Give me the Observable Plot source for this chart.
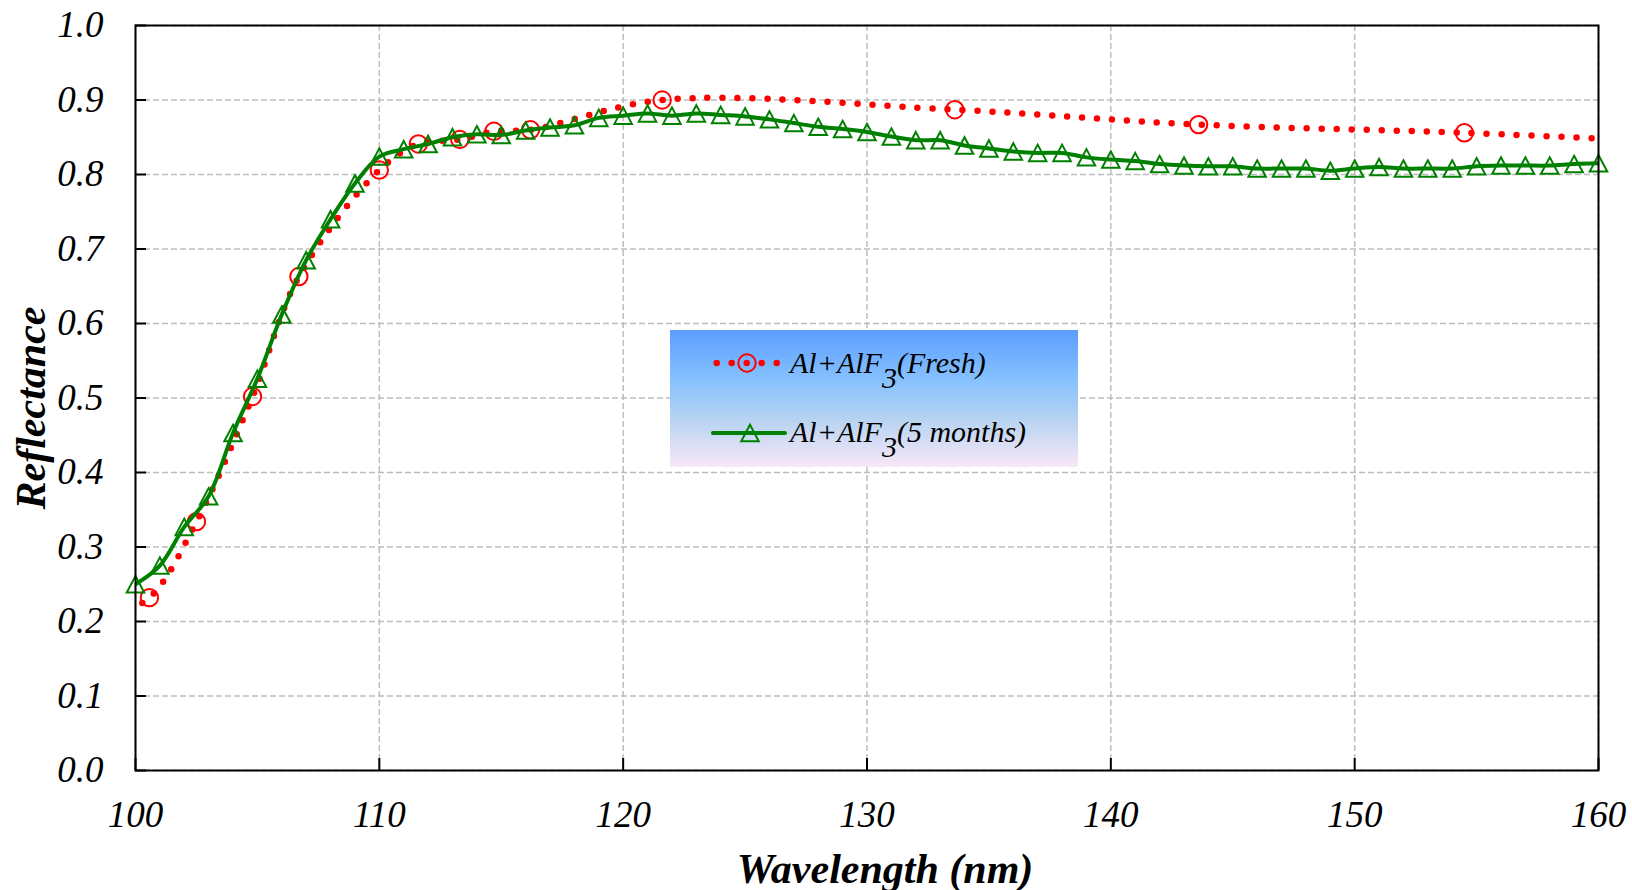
<!DOCTYPE html>
<html>
<head>
<meta charset="utf-8">
<script src="https://cdn.jsdelivr.net/npm/d3@7"></script>
<script src="https://cdn.jsdelivr.net/npm/@observablehq/plot@0.6"></script>
<style>
  html, body { margin: 0; padding: 0; background: #fff; }
  #chart { width: 1632px; height: 890px; }
</style>
</head>
<body>
<div id="chart"></div>
<script>
// ---- data ----
const xTicks = [100, 110, 120, 130, 140, 150, 160];
const yTicks = [0, 0.1, 0.2, 0.3, 0.4, 0.5, 0.6, 0.7, 0.8, 0.9, 1.0];

const seriesNames = ["Al+AlF3(Fresh)", "Al+AlF3(5 months)"];

// Fresh sample (measured points; series continues past the axis range and is clipped)
const freshWavelength = [98.6, 100.57, 102.5, 104.8, 106.7, 110.0, 111.6, 113.3, 114.7, 116.2, 121.6, 133.6, 143.6, 154.5, 165.5];
const freshReflectance = [0.200, 0.232, 0.334, 0.502, 0.663, 0.806, 0.841, 0.847, 0.858, 0.860, 0.900, 0.887, 0.867, 0.856, 0.840];

// After 5 months (1 nm steps)
const agedWavelength = [100,101,102,103,104,105,106,107,108,109,110,111,112,113,114,115,116,117,118,119,120,
  121,122,123,124,125,126,127,128,129,130,131,132,133,134,135,136,137,138,139,140,
  141,142,143,144,145,146,147,148,149,150,151,152,153,154,155,156,157,158,159,160];
const agedReflectance = [0.250,0.275,0.327,0.368,0.453,0.526,0.612,0.685,0.740,0.788,0.824,
  0.834,0.841,0.850,0.854,0.853,0.859,0.863,0.866,0.876,0.879,
  0.882,0.879,0.882,0.880,0.878,0.874,0.869,0.864,0.861,0.857,
  0.851,0.846,0.846,0.839,0.835,0.831,0.829,0.829,0.823,0.820,
  0.818,0.814,0.812,0.811,0.811,0.808,0.808,0.808,0.805,0.808,
  0.810,0.808,0.808,0.808,0.811,0.812,0.812,0.812,0.814,0.815];

const fresh = freshWavelength.map((x, i) => ({x, y: freshReflectance[i]}));
const aged = agedWavelength.map((x, i) => ({x, y: agedReflectance[i]}));

const RED = "#ff0000";
const GREEN = "#008000";
const FONT = "'Liberation Serif', 'Times New Roman', Times, serif";

// open isosceles triangle centred on its bounding box
const triangleSymbol = {
  draw(context, size) {
    const r = Math.sqrt(size / Math.PI);
    const w = 1.03 * r, h = 0.97 * r;
    context.moveTo(0, -h);
    context.lineTo(w, h);
    context.lineTo(-w, h);
    context.closePath();
  }
};

const gridStyle = {stroke: "#bdbdbd", strokeOpacity: 1, strokeWidth: 1.5, strokeDasharray: "6,3"};

const chart = Plot.plot({
  width: 1632,
  height: 890,
  marginLeft: 135,
  marginRight: 34,
  marginTop: 25,
  marginBottom: 120,
  x: {domain: [100, 160]},
  y: {domain: [0, 1]},
  style: {fontFamily: FONT, fontStyle: "italic", fontSize: "36px", color: "black", background: "white", overflow: "visible"},
  marks: [
    Plot.gridX(xTicks, gridStyle),
    Plot.gridY(yTicks, gridStyle),
    Plot.line(fresh, {x: "x", y: "y", stroke: RED, strokeWidth: 6.5, strokeDasharray: "0,15",
      strokeLinecap: "round", curve: "catmull-rom", clip: true}),
    Plot.dot(fresh, {x: "x", y: "y", r: 8.7, stroke: RED, strokeWidth: 2, fill: "none", clip: true}),
    Plot.line(aged, {x: "x", y: "y", stroke: GREEN, strokeWidth: 4, curve: "catmull-rom", clip: true}),
    Plot.dot(aged, {x: "x", y: "y", r: 8.5, symbol: triangleSymbol, stroke: GREEN, strokeWidth: 2, fill: "none"}),
    Plot.frame({stroke: "black", strokeWidth: 2}),
    Plot.axisX(xTicks, {tickSize: -12, tickPadding: 42, strokeWidth: 2, tickFormat: d => String(d), fontSize: 37, label: null}),
    Plot.axisY(yTicks, {tickSize: -11, tickPadding: 43, strokeWidth: 2, tickFormat: d3.format(".1f"), fontSize: 37, label: null}),
    Plot.text(["Wavelength (nm)"], {frameAnchor: "bottom", text: d => d, dx: 18, dy: 99, textAnchor: "middle",
      fontSize: 42, fontWeight: "bold", fontStyle: "italic", lineAnchor: "middle"}),
    Plot.text(["Reflectance"], {frameAnchor: "left", text: d => d, rotate: -90, dx: -104, dy: 10, textAnchor: "middle",
      fontSize: 42, fontWeight: "bold", fontStyle: "italic", lineAnchor: "middle"})
  ]
});

// ---- legend (inside plot area, gradient background) ----
const svg = d3.select(chart);
const defs = svg.append("defs");
const grad = defs.append("linearGradient").attr("id", "legendGrad")
  .attr("x1", 0).attr("y1", 0).attr("x2", 0).attr("y2", 1);
[["0%", "#5b9dff"], ["35%", "#84c0ff"], ["65%", "#b6d3f1"], ["100%", "#f8e8f8"]]
  .forEach(([o, c]) => grad.append("stop").attr("offset", o).attr("stop-color", c));

const lg = svg.append("g").attr("font-family", FONT).attr("font-style", "italic")
  .attr("font-size", 30).attr("text-anchor", "start");
lg.append("rect").attr("x", 670).attr("y", 330).attr("width", 408).attr("height", 137).attr("fill", "url(#legendGrad)");

// row 1: fresh
lg.append("line").attr("x1", 716.7).attr("x2", 777).attr("y1", 363).attr("y2", 363)
  .attr("stroke", RED).attr("stroke-width", 6.5).attr("stroke-dasharray", "0,15").attr("stroke-linecap", "round");
lg.append("circle").attr("cx", 747).attr("cy", 363).attr("r", 8.7).attr("fill", "none").attr("stroke", RED).attr("stroke-width", 2);
// row 2: aged
lg.append("line").attr("x1", 713).attr("x2", 785).attr("y1", 433).attr("y2", 433)
  .attr("stroke", GREEN).attr("stroke-width", 4).attr("stroke-linecap", "round");
lg.append("path").attr("transform", "translate(750,433)")
  .attr("d", d3.symbol(triangleSymbol, Math.PI * 8.5 * 8.5)())
  .attr("fill", "none").attr("stroke", GREEN).attr("stroke-width", 2);

function legendLabel(y, name) {
  // name like "Al+AlF3(Fresh)" -> subscript the 3
  const idx = name.indexOf("3");
  const t = lg.append("text").attr("x", 790).attr("y", y).attr("fill", "black").attr("text-anchor", "start");
  t.append("tspan").text(name.slice(0, idx));
  t.append("tspan").attr("dy", 15).text("3");
  t.append("tspan").attr("dy", -15).text(name.slice(idx + 1));
}
legendLabel(373, seriesNames[0]);
legendLabel(442, seriesNames[1]);

document.getElementById("chart").appendChild(chart);
</script>
</body>
</html>
